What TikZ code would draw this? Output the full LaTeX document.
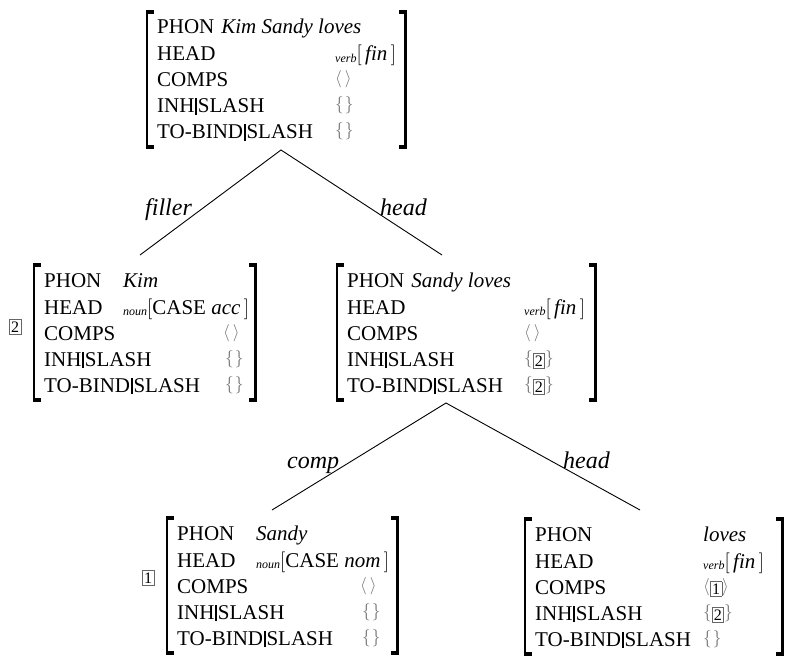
\documentclass[tikz,border=0pt]{standalone}
\usepackage{fontspec}
\setmainfont{Liberation Serif}

% sizes
\newcommand\mainsize{\fontsize{21}{25}\selectfont}
\newcommand\subsize{\fontsize{12}{12}\selectfont}
\newcommand\delimsize{\fontsize{16}{16}\selectfont}

% path separator in attribute names
\newcommand\pathbar{\kern0.8pt\rule[-2pt]{1.8pt}{16.5pt}\kern0.8pt}
% boxed structure-sharing index
\newcommand\ibox[1]{{\setlength\fboxsep{1.5pt}\setlength\fboxrule{0.6pt}%
  \color{black!60}\fbox{\color{black}\delimsize #1}}}
% light delimiters for lists and sets
\newcommand\lang{{\color{black!55}\raisebox{3pt}{\delimsize$\langle$}}}
\newcommand\rang{{\color{black!55}\raisebox{3pt}{\delimsize$\rangle$}}}
\newcommand\lbr{{\color{black!55}\raisebox{3pt}{\delimsize$\{$}}}
\newcommand\rbr{{\color{black!55}\raisebox{3pt}{\delimsize$\}$}}}
\newcommand\elist{\lang\hspace{3pt}\rang}
\newcommand\eset{\lbr\hspace{1pt}\rbr}
% typed feature structure: small italic type, then the bracketed value
\newcommand\typed[2]{\raisebox{-1.5pt}{\subsize\itshape #1}#2}

% attribute-value matrix body
\newlength\valcol
\newcommand\avmrow[2]{\hbox to \hsize{\smash{\makebox[\valcol][l]{#1}#2}\hss}}
\newcommand\avmbody[7]{\vtop{\hsize=#1\relax\valcol=#2\relax\offinterlineskip
  #3\vskip27pt #4\vskip26pt #5\vskip26pt #6\vskip26pt #7}}

\tikzset{
  avm/.style={inner xsep=10pt, inner ysep=0pt, text height=24pt,
    text depth=115pt, font=\mainsize, anchor=base west},
  tagnode/.style={draw=black!60, line width=0.6pt, inner xsep=2pt,
    inner ysep=2pt, text height=11pt, text depth=0pt, font=\delimsize},
  branch/.style={line width=0.9pt},
  edgelabel/.style={font=\fontsize{24}{24}\selectfont\itshape,
    inner sep=0pt, anchor=base west},
}

% heavy square brackets around a matrix node
\newcommand\avmbrackets[1]{%
  \draw[line width=2.2pt] (#1.north west) -- (#1.south west);
  \fill ([xshift=-1.1pt]#1.north west) rectangle ([xshift=6.5pt,yshift=-4pt]#1.north west);
  \fill ([xshift=-1.1pt]#1.south west) rectangle ([xshift=6.5pt,yshift=4pt]#1.south west);
  \draw[line width=2.2pt] (#1.north east) -- (#1.south east);
  \fill ([xshift=1.1pt]#1.north east) rectangle ([xshift=-6.5pt,yshift=-4pt]#1.north east);
  \fill ([xshift=1.1pt]#1.south east) rectangle ([xshift=-6.5pt,yshift=4pt]#1.south east);
}

\begin{document}
\begin{tikzpicture}[x=1pt, y=-1pt]
\fill[white] (0,0) rectangle (786,660);
\useasboundingbox (0,0) rectangle (786,660);

% mother
\node[avm] (T) at (147,34) {\avmbody{238pt}{178pt}
  {\avmrow{PHON\hspace{7pt}\textit{Kim Sandy loves}}{}}
  {\avmrow{HEAD}{\typed{verb}{$[$\,\textit{fin}\,$]$}}}
  {\avmrow{COMPS}{\elist}}
  {\avmrow{INH\pathbar SLASH}{\eset}}
  {\avmrow{TO-BIND\pathbar SLASH}{\eset}}};

% filler daughter
\node[avm] (ML) at (34,287) {\avmbody{201pt}{79pt}
  {\avmrow{PHON}{\textit{Kim}}}
  {\avmrow{HEAD}{\typed{noun}{$[$CASE \textit{acc}\,$]$}}}
  {\avmrow{COMPS}{\hspace{100pt}\elist}}
  {\avmrow{INH\pathbar SLASH}{\hspace{102pt}\eset}}
  {\avmrow{TO-BIND\pathbar SLASH}{\hspace{102pt}\eset}}};

% head daughter
\node[avm] (MR) at (337,287) {\avmbody{238pt}{177pt}
  {\avmrow{PHON\hspace{7pt}\textit{Sandy loves}}{}}
  {\avmrow{HEAD}{\typed{verb}{$[$\,\textit{fin}\,$]$}}}
  {\avmrow{COMPS}{\elist}}
  {\avmrow{INH\pathbar SLASH}{\lbr\ibox{2}\rbr}}
  {\avmrow{TO-BIND\pathbar SLASH}{\lbr\ibox{2}\rbr}}};

% complement
\node[avm] (BL) at (167,540) {\avmbody{210pt}{79pt}
  {\avmrow{PHON}{\textit{Sandy}}}
  {\avmrow{HEAD}{\typed{noun}{$[$CASE \textit{nom}\,$]$}}}
  {\avmrow{COMPS}{\hspace{104pt}\elist}}
  {\avmrow{INH\pathbar SLASH}{\hspace{106pt}\eset}}
  {\avmrow{TO-BIND\pathbar SLASH}{\hspace{106pt}\eset}}};

% lexical head
\node[avm] (BR) at (525,541) {\avmbody{237pt}{168pt}
  {\avmrow{PHON}{\textit{loves}}}
  {\avmrow{HEAD}{\typed{verb}{$[$\,\textit{fin}\,$]$}}}
  {\avmrow{COMPS}{\lang\ibox{1}\rang}}
  {\avmrow{INH\pathbar SLASH}{\lbr\ibox{2}\rbr}}
  {\avmrow{TO-BIND\pathbar SLASH}{\eset}}};

\avmbrackets{T}
\avmbrackets{ML}
\avmbrackets{MR}
\avmbrackets{BL}
\avmbrackets{BR}

% tags
\node[tagnode] (tagML) at ([xshift=-19pt,yshift=6pt]ML.west) {2};
\node[tagnode] (tagBL) at ([xshift=-19pt,yshift=8pt]BL.west) {1};

% tree branches
\coordinate (T-foot) at (281,150);
\coordinate (ML-top) at (140,255);
\coordinate (MR-top) at (442,255);
\coordinate (MR-foot) at (446,403);
\coordinate (BL-top) at (272,510);
\coordinate (BR-top) at (640,510);
\draw[branch] (ML-top) -- (T-foot) -- (MR-top);
\draw[branch] (BL-top) -- (MR-foot) -- (BR-top);

\node[edgelabel] (lfiller) at (145,215) {filler};
\node[edgelabel] (lhead1) at (380,215) {head};
\node[edgelabel] (lcomp) at (287,468) {comp};
\node[edgelabel] (lhead2) at (563,468) {head};
\end{tikzpicture}
\end{document}
